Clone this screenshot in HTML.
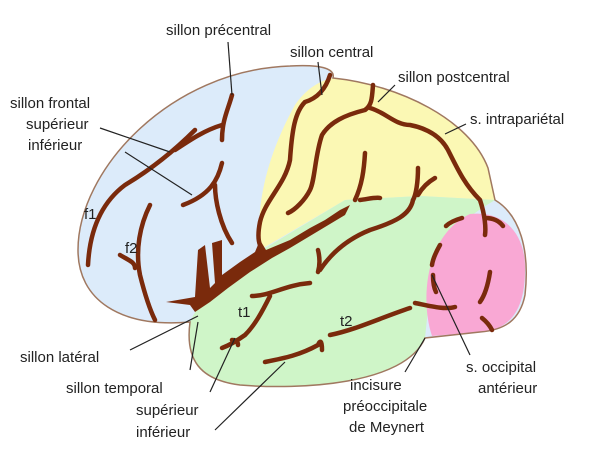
<!DOCTYPE html>
<html><head><meta charset="utf-8"><style>
html,body{margin:0;padding:0;background:#fff;width:600px;height:452px;overflow:hidden}
svg text{font-family:"Liberation Sans",sans-serif;font-size:15px;fill:#222}
</style></head><body>
<svg width="600" height="452" viewBox="0 0 600 452" xmlns="http://www.w3.org/2000/svg">
<path d="M190,322 C120,328 78,300 78,250 C78,170 170,70 290,66 C325,64 335,70 333,78 C400,85 470,120 488,168 L495,200 C520,215 530,250 525,295 C520,320 505,330 480,332 L425,338 C405,385 300,390 240,385 C200,380 185,360 190,322 Z" fill="#dcebfa"/>
<path d="M333,78 C400,85 470,120 488,168 L495,200 L420,196 L345,200 L260,250 C255,200 270,150 295,105 C305,90 320,80 333,78 Z" fill="#fbf8b4"/>
<path d="M262,250 L345,200 L420,196 L495,200 C470,215 450,230 440,255 L430,290 L425,338 C405,385 300,390 240,385 C200,380 185,360 190,322 C200,300 220,280 262,250 Z" fill="#cff5c8"/>
<path d="M470,214 C505,210 526,235 525,270 C525,310 510,330 480,332 L432,336 C420,300 425,235 470,214 Z" fill="#f9a8d4"/>
<path d="M190,322 C120,328 78,300 78,250 C78,170 170,70 290,66 C325,64 335,70 333,78 C400,85 470,120 488,168 L495,200 C520,215 530,250 525,295 C520,320 505,330 480,332 L425,338 C405,385 300,390 240,385 C200,380 185,360 190,322 Z" fill="none" stroke="#a07860" stroke-width="1.5"/>
<g fill="none" stroke="#7a2a0c" stroke-width="4.5" stroke-linecap="round">
<path d="M232,95 C228,110 222,120 222,140"/>
<path d="M222,125 C205,130 190,140 175,150"/>
<path d="M222,163 C218,180 210,195 183,205"/>
<path d="M215,185 C215,200 220,225 232,243"/>
<path d="M330,75 C326,88 318,98 305,102 C295,112 292,130 290,160 C285,185 265,200 260,222 C258,232 258,240 260,245"/>
<path d="M373,85 C372,98 372,105 365,110 C345,115 330,122 322,135 C315,155 315,180 310,190 C305,200 295,210 288,213"/>
<path d="M370,108 C385,112 395,125 410,125 C425,128 440,135 448,150 C458,170 465,185 480,200 C485,215 486,228 485,235"/>
<path d="M365,153 C364,170 362,185 355,200"/>
<path d="M418,168 C418,182 416,195 413,200"/>
<path d="M435,178 C428,182 422,188 418,195"/>
<path d="M360,200 C368,199 376,197 380,198"/>
<path d="M195,130 C175,150 150,170 125,185 C105,200 90,225 88,265"/>
<path d="M150,205 C140,225 135,250 140,275 C145,295 150,310 155,320"/>
<path d="M120,255 C128,260 135,262 135,268"/>
<path d="M413,200 C410,215 395,222 370,230 C345,240 330,255 320,270"/>
<path d="M318,250 C320,258 320,265 318,272"/>
<path d="M252,296 C270,296 285,285 310,283"/>
<path d="M270,296 C262,312 255,325 245,335 C238,340 230,345 222,348"/>
<path d="M232,340 C236,340 238,342 238,345"/>
<path d="M265,362 C285,358 300,355 318,345 C320,340 322,340 322,350"/>
<path d="M330,335 C355,330 380,318 410,308"/>
<path d="M415,303 C430,306 445,310 455,307"/>
<path d="M485,218 C495,218 500,222 503,226"/>
<path d="M462,218 C455,220 450,222 446,226"/>
<path d="M440,245 C436,252 433,258 432,265"/>
<path d="M433,275 C433,282 434,288 436,292"/>
<path d="M490,272 C488,285 485,295 480,302"/>
<path d="M482,318 C487,322 490,326 492,330"/>
</g>
<g fill="#7a2a0c">
<path d="M166,302 L195,297 L198,250 L205,245 L210,288 L215,283 L212,243 L222,240 L222,275 L240,262 L255,252 L260,240 L266,250 L290,240 L310,228 L325,220 L340,210 L350,205 L345,215 L330,224 L310,236 L290,248 L272,258 L250,272 L228,288 L210,302 L195,312 L190,305 Z"/>
</g>
<g stroke="#222" stroke-width="1.2" fill="none">
<path d="M228,42 L232,95"/>
<path d="M318,62 L322,95"/>
<path d="M395,85 L378,102"/>
<path d="M466,124 L445,134"/>
<path d="M100,128 L170,152"/>
<path d="M125,152 L192,195"/>
<path d="M130,350 L198,316"/>
<path d="M190,370 L198,322"/>
<path d="M210,392 L235,338"/>
<path d="M215,430 L285,362"/>
<path d="M405,372 L425,338"/>
<path d="M470,355 L432,275"/>
</g>
<text x="166" y="35">sillon précentral</text>
<text x="290" y="57">sillon central</text>
<text x="398" y="82">sillon postcentral</text>
<text x="470" y="124">s. intrapariétal</text>
<text x="10" y="108">sillon frontal</text>
<text x="26" y="129">supérieur</text>
<text x="28" y="150">inférieur</text>
<text x="84" y="219" font-size="13">f1</text>
<text x="125" y="253" font-size="13">f2</text>
<text x="238" y="317" font-size="13">t1</text>
<text x="340" y="326" font-size="13">t2</text>
<text x="20" y="362">sillon latéral</text>
<text x="66" y="393">sillon temporal</text>
<text x="136" y="415">supérieur</text>
<text x="136" y="437">inférieur</text>
<text x="350" y="390">incisure</text>
<text x="343" y="411">préoccipitale</text>
<text x="349" y="432">de Meynert</text>
<text x="466" y="372">s. occipital</text>
<text x="478" y="393">antérieur</text>
</svg>
</body></html>
